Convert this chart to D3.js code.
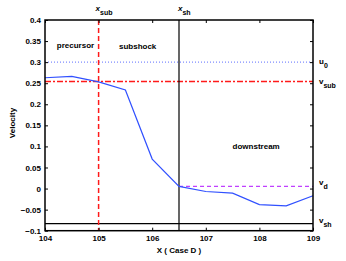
<!DOCTYPE html>
<html><head><meta charset="utf-8">
<script src="https://cdn.jsdelivr.net/npm/d3@7"></script>
<style>body{margin:0;background:#fff}svg{display:block}text{font-family:"Liberation Sans",Arial,sans-serif}</style>
</head><body><svg id="c" width="346" height="261"></svg>
<script>
const xs = [104, 104.5, 105, 105.5, 106, 106.5, 107, 107.5, 108, 108.5, 109];
const vel = [0.263, 0.266, 0.253, 0.234, 0.07, 0.005, -0.007, -0.011, -0.038, -0.041, -0.017];
const xTicks = [104, 105, 106, 107, 108, 109];
const yTicks = [-0.1, -0.05, 0, 0.05, 0.1, 0.15, 0.2, 0.25, 0.3, 0.35, 0.4];
const u0 = 0.3, vSub = 0.254, vD = 0.005, vSh = -0.083;
const xSub = 105, xSh = 106.5;
const regions = [{t:"precursor", x:104.22, y:0.334}, {t:"subshock", x:105.38, y:0.332}, {t:"downstream", x:107.5, y:0.095}];

const svg = d3.select("#c");
const L=45, R=313, T=20, B=230.7;
const x = d3.scaleLinear().domain([104,109]).range([L,R]);
const y = d3.scaleLinear().domain([-0.1,0.4]).range([B,T]);
const fs = "8px";

// reference lines
svg.append("line").attr("x1",L).attr("x2",R).attr("y1",y(u0)).attr("y2",y(u0))
  .attr("stroke","#7f8cff").attr("stroke-width",1.2).attr("stroke-dasharray","1,2");
svg.append("line").attr("x1",L).attr("x2",R).attr("y1",y(vSub)).attr("y2",y(vSub))
  .attr("stroke","#ff1a1a").attr("stroke-width",1.3).attr("stroke-dasharray","6,2,2,2");
svg.append("line").attr("x1",x(xSh)).attr("x2",R).attr("y1",y(vD)).attr("y2",y(vD))
  .attr("stroke","#c040ff").attr("stroke-width",1.2).attr("stroke-dasharray","4,3");
svg.append("line").attr("x1",L).attr("x2",R).attr("y1",y(vSh)).attr("y2",y(vSh))
  .attr("stroke","#000").attr("stroke-width",1.3);
svg.append("line").attr("x1",x(xSub)).attr("x2",x(xSub)).attr("y1",T).attr("y2",B)
  .attr("stroke","#ff1a1a").attr("stroke-width",1.5).attr("stroke-dasharray","5,3");
svg.append("line").attr("x1",x(xSh)).attr("x2",x(xSh)).attr("y1",T).attr("y2",B)
  .attr("stroke","#000").attr("stroke-width",1.2);

// data line
svg.append("path").datum(xs.map((d,i)=>[d,vel[i]]))
  .attr("d", d3.line().x(d=>x(d[0])).y(d=>y(d[1])))
  .attr("fill","none").attr("stroke","#3050ff").attr("stroke-width",1.2);

// axes
const tk = 3;
const gB = svg.append("g").attr("transform",`translate(0,${B})`)
  .call(d3.axisBottom(x).tickValues(xTicks).tickFormat(d3.format("d")).tickSizeInner(-tk).tickSizeOuter(0).tickPadding(5));
const gT = svg.append("g").attr("transform",`translate(0,${T})`)
  .call(d3.axisTop(x).tickValues(xTicks).tickFormat("").tickSizeInner(-tk).tickSizeOuter(0));
const gL = svg.append("g").attr("transform",`translate(${L},0)`)
  .call(d3.axisLeft(y).tickValues(yTicks).tickFormat(d=>d===0?"0":d3.format("")(+d.toFixed(2)).replace("-","\u2212")).tickSizeInner(-tk).tickSizeOuter(0).tickPadding(4));
const gR = svg.append("g").attr("transform",`translate(${R},0)`)
  .call(d3.axisRight(y).tickValues(yTicks).tickFormat("").tickSizeInner(-tk).tickSizeOuter(0));
[gB,gT,gL,gR].forEach(g=>{
  g.select(".domain").remove();
  g.selectAll(".tick line").attr("stroke","#000").attr("stroke-width",1);
  g.selectAll("text").attr("font-size",fs).attr("font-weight","bold").attr("fill","#000")
   .attr("font-family","'Liberation Sans',Arial,sans-serif");
});
svg.append("rect").attr("x",L).attr("y",T).attr("width",R-L).attr("height",B-T)
  .attr("fill","none").attr("stroke","#000").attr("stroke-width",1.5);

// labels
const txt = (s,xx,yy,opts={}) => svg.append("text").attr("x",xx).attr("y",yy).text(s)
  .attr("font-size",opts.size||fs).attr("font-weight","bold").attr("text-anchor",opts.anchor||"start");
regions.forEach(r=>txt(r.t, x(r.x), y(r.y)));

txt("X ( Case D )", 179, 253, {anchor:"middle"});
svg.append("text").attr("transform","translate(15,123) rotate(-90)").attr("text-anchor","middle")
  .attr("font-size",fs).attr("font-weight","bold").text("Velocity");

// symbol labels with subscripts
function sym(main, sub, xx, yy){
  const t = svg.append("text").attr("x",xx).attr("y",yy).attr("font-size",fs).attr("font-weight","bold");
  t.append("tspan").text(main).attr("font-style", main==="x"?"italic":"normal");
  t.append("tspan").text(sub).attr("font-size","7px").attr("dy",4);
}
sym("x","sub", x(xSub)-3, 11);
sym("x","sh", x(xSh)-1, 11);
sym("u","0", 319, y(u0)+2);
sym("v","sub", 319, y(vSub)+2);
sym("v","d", 319, y(vD)-1);
sym("v","sh", 319, y(vSh)-1);
</script></body></html>
